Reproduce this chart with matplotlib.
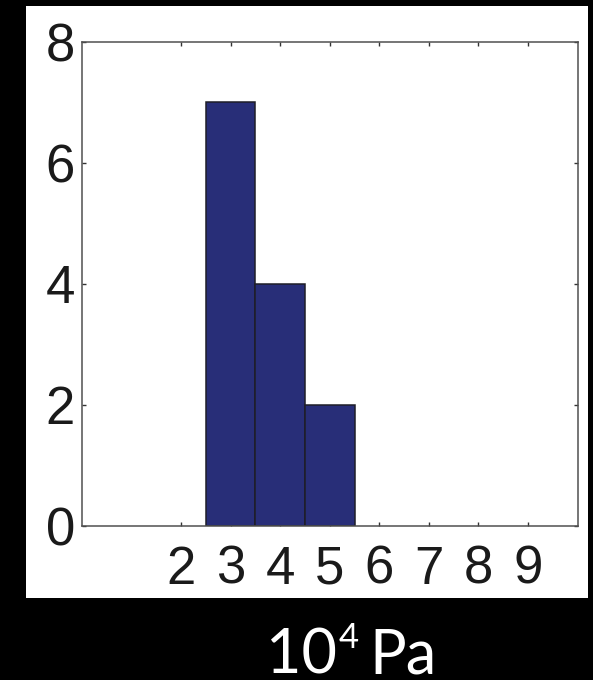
"""
Histogram of measured stiffness values (units of 10^4 Pa).

Recreates a MATLAB-style histogram panel: white axes panel on a black
slide background with a unit caption underneath.
"""

import matplotlib
matplotlib.use('Agg')
import matplotlib.pyplot as plt
from matplotlib.patches import Rectangle


# -----------------------------------------------------------------------
# Data
# -----------------------------------------------------------------------

bin_centers = [2, 3, 4, 5, 6, 7, 8, 9]
counts = [0, 7, 4, 2, 0, 0, 0, 0]

x_ticks = [2, 3, 4, 5, 6, 7, 8, 9]
y_ticks = [0, 2, 4, 6, 8]

unit_main = '10'
unit_exp = '4'
unit_name = 'Pa'


# -----------------------------------------------------------------------
# Figure
# -----------------------------------------------------------------------

W, H = 593, 680
DPI = 100

BAR_COLOR = '#282E78'
EDGE_COLOR = '#1E1E28'
SPINE_COLOR = '#505050'
TEXT_COLOR = '#1A1A1A'


def px_rect(x0, y0, x1, y1):
    """Convert pixel box (top-left origin) to figure fraction rect."""
    return [x0 / W, 1 - y1 / H, (x1 - x0) / W, (y1 - y0) / H]


def main():
    fig = plt.figure(figsize=(W / DPI, H / DPI), dpi=DPI)
    fig.patch.set_facecolor('black')

    # White panel behind the axes (screenshot of the MATLAB figure)
    fig.add_artist(Rectangle(
        (26 / W, 1 - 598 / H), 562 / W, 592 / H,
        transform=fig.transFigure, facecolor='white',
        edgecolor='none', zorder=0,
    ))

    ax = fig.add_axes(px_rect(82, 42, 577.5, 525.5))
    ax.set_facecolor('white')

    # Only non-empty bins leave a visible bar
    xs = [c for c, n in zip(bin_centers, counts) if n > 0]
    ns = [n for n in counts if n > 0]
    ax.bar(xs, ns, width=1.0, color=BAR_COLOR, edgecolor=EDGE_COLOR,
           linewidth=1.1, zorder=2)

    ax.set_xlim(0, 10)
    ax.set_ylim(0, 8)
    ax.set_xticks(x_ticks)
    ax.set_yticks(y_ticks)

    for spine in ax.spines.values():
        spine.set_color(SPINE_COLOR)
        spine.set_linewidth(1.1)
        spine.set_zorder(3)

    ax.tick_params(axis='both', direction='in', length=3, width=1.0,
                   color='#333333', top=True, right=True,
                   labelcolor=TEXT_COLOR, labelsize=38)
    ax.tick_params(axis='x', pad=14)
    ax.tick_params(axis='y', pad=5)
    for lab in ax.get_xticklabels() + ax.get_yticklabels():
        lab.set_fontfamily('Liberation Sans')

    # Unit caption below the panel: "10^4 Pa"
    cap_font = dict(family='Lato', color='white', fontsize=44)
    t_main = fig.text(266 / W, 1 - 674 / H, unit_main, ha='left',
                      va='baseline', **cap_font)
    t_exp = ax.annotate(unit_exp, xy=(1, 1), xycoords=t_main,
                        xytext=(1, 4), textcoords='offset points',
                        ha='left', va='top', family='Lato',
                        color='white', fontsize=25,
                        annotation_clip=False)
    ax.annotate(unit_name, xy=(1, 0), xycoords=(t_exp, t_main),
                xytext=(8, 0), textcoords='offset points',
                ha='left', va='bottom', annotation_clip=False,
                **cap_font)

    fig.savefig('out.png', dpi=DPI, facecolor=fig.get_facecolor())
    plt.close(fig)


if __name__ == '__main__':
    main()
